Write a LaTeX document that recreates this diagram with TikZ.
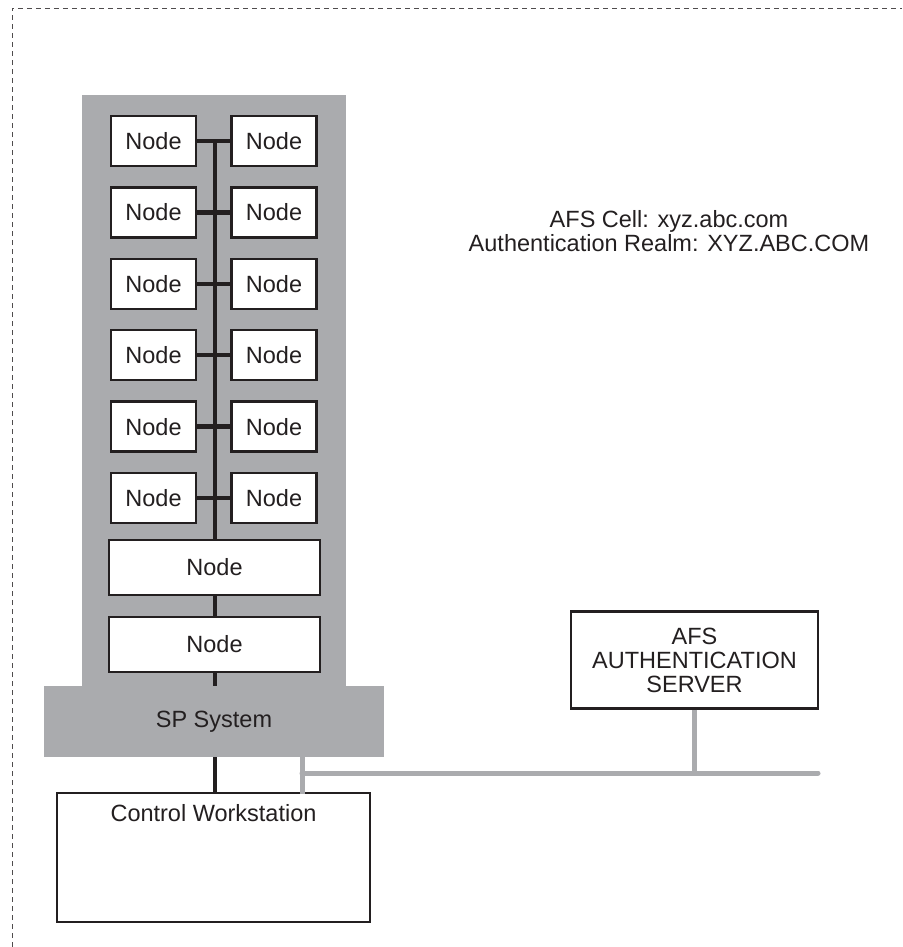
\documentclass[tikz,border=0pt]{standalone}
\usepackage{fontspec}
\setmainfont{Liberation Sans}
\definecolor{towergray}{HTML}{AAABAE}
\definecolor{inkblack}{HTML}{231F20}
\begin{document}
\begin{tikzpicture}[x=1pt,y=-1pt,
  every node/.style={font=\fontsize{23.5}{24}\selectfont, text=inkblack},
  nodebox/.style={draw=inkblack, line width=2.5pt, fill=white, minimum width=85pt, minimum height=50pt, inner sep=0pt},
  widebox/.style={draw=inkblack, line width=2.5pt, fill=white, minimum width=211pt, minimum height=55pt, inner sep=0pt},
  bus/.style={draw=inkblack, line width=4.5pt},
  grayline/.style={draw=towergray, line width=5pt},
  border/.style={draw=inkblack!80, line width=0.8pt, dash pattern=on 5pt off 4pt}
]
\useasboundingbox (0,0) rectangle (902,947);
% dashed frame
\draw[border] (12,947) -- (12,8) -- (902,8);
% tower background
\fill[towergray] (82,95) rectangle (346,686);
\node[fill=towergray, minimum width=340pt, minimum height=71pt, inner sep=0pt] (sp) at (214,721.5) {SP System};
% bus
\coordinate (bustop) at (215,142);
\coordinate (busbot) at (215,686);
\draw[bus] (bustop) -- (busbot);
% node rows
\foreach \i in {1,...,6} {
  \pgfmathsetmacro{\yy}{141+(\i-1)*71.4}
  \node[nodebox] (L\i) at (153.5,\yy) {Node};
  \node[nodebox] (R\i) at (274,\yy) {Node};
  \draw[bus] (L\i.east) -- (R\i.west);
}
\node[widebox] (W1) at (214.5,567.5) {Node};
\node[widebox] (W2) at (214.5,644.5) {Node};
% control workstation
\node[draw=inkblack, line width=2.5pt, fill=white, minimum width=313pt, minimum height=129pt, inner sep=0pt] (cw) at (213.5,857.5) {};
\node (cwlabel) at (213.5,813) {Control Workstation};
\coordinate (spb) at (215,757);
\draw[bus] (spb) -- (spb |- cw.north);
% gray network
\coordinate (g1) at (302,757);
\coordinate (g2) at (302,794);
\coordinate (gj) at (302,773);
\coordinate (gend) at (818,773);
\node[draw=inkblack, line width=2.5pt, fill=white, minimum width=247pt, minimum height=97pt, inner sep=0pt, align=center] (afs) at (694.5,660) {AFS\\AUTHENTICATION\\SERVER};
\draw[grayline] (g1) -- (g2);
\draw[grayline, line cap=round] (gj) -- (gend);
\draw[grayline] (afs.south) -- (afs.south |- gend);
% cell text
\node[align=center] (cell) at (669,231) {AFS Cell: xyz.abc.com\\Authentication Realm: XYZ.ABC.COM};
\end{tikzpicture}
\end{document}
